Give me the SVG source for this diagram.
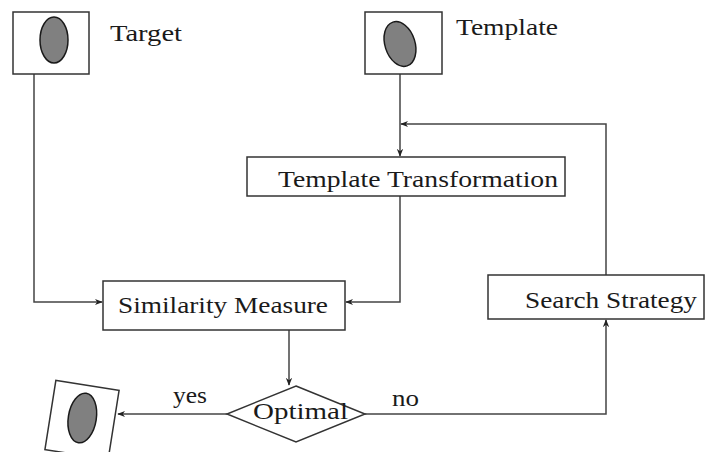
<svg xmlns="http://www.w3.org/2000/svg" width="706" height="452" viewBox="0 0 706 452">
  <style>
    .box { fill: #fff; stroke: #333; stroke-width: 1.5; }
    .blob { fill: #808080; stroke: #1a1a1a; stroke-width: 1.5; }
    .wire { fill: none; stroke: #444; stroke-width: 1.5; }
    .lbl { font-family: "Liberation Serif", "Times New Roman", serif; font-size: 24px; fill: #1a1a1a; }
  </style>
  <defs>
    <marker id="arr" viewBox="0 0 10 10" refX="9" refY="5" markerWidth="8" markerHeight="8" markerUnits="userSpaceOnUse" orient="auto">
      <path d="M0,1 L10,5 L0,9 L3,5 Z" fill="#222"/>
    </marker>
  </defs>

  <rect width="706" height="452" fill="#fff"/>

  <g id="connectors">
    <polyline class="wire" points="34,74 34,302 102,302" marker-end="url(#arr)"/>
    <polyline class="wire" points="400,74 400,156" marker-end="url(#arr)"/>
    <polyline class="wire" points="606,275 606,124 401,124" marker-end="url(#arr)"/>
    <polyline class="wire" points="400,196 400,302 346,302" marker-end="url(#arr)"/>
    <polyline class="wire" points="289,330 289,385" marker-end="url(#arr)"/>
    <polyline class="wire" points="365,414 606,414 606,320" marker-end="url(#arr)"/>
    <polyline class="wire" points="227,414 118,414" marker-end="url(#arr)"/>
  </g>

  <g id="target">
    <rect class="box" x="13" y="12" width="76" height="62"/>
    <ellipse class="blob" cx="54" cy="40" rx="14" ry="23"/>
    <text class="lbl" x="110" y="41" textLength="72" lengthAdjust="spacingAndGlyphs">Target</text>
  </g>

  <g id="template">
    <rect class="box" x="365" y="12" width="77" height="62"/>
    <ellipse class="blob" cx="400" cy="44" rx="15" ry="23" transform="rotate(-18 400 44)"/>
    <text class="lbl" x="456" y="35" textLength="102" lengthAdjust="spacingAndGlyphs">Template</text>
  </g>

  <g id="template-transformation">
    <rect class="box" x="247" y="157" width="318" height="39"/>
    <text class="lbl" x="278" y="187" textLength="280" lengthAdjust="spacingAndGlyphs">Template Transformation</text>
  </g>

  <g id="similarity-measure">
    <rect class="box" x="103" y="281" width="242" height="49"/>
    <text class="lbl" x="118" y="313" textLength="210" lengthAdjust="spacingAndGlyphs">Similarity Measure</text>
  </g>

  <g id="search-strategy">
    <rect class="box" x="488" y="275" width="216" height="44"/>
    <text class="lbl" x="525" y="308" textLength="172" lengthAdjust="spacingAndGlyphs">Search Strategy</text>
  </g>

  <g id="optimal">
    <polygon class="box" points="296,386 365,414 296,442 227,414"/>
    <text class="lbl" x="253" y="419" textLength="95" lengthAdjust="spacingAndGlyphs">Optimal</text>
  </g>

  <g id="edge-labels">
    <text class="lbl" x="173" y="403" textLength="34" lengthAdjust="spacingAndGlyphs">yes</text>
    <text class="lbl" x="392" y="406" textLength="27" lengthAdjust="spacingAndGlyphs">no</text>
  </g>

  <g id="result" transform="translate(82 420) rotate(9)">
    <rect class="box" x="-32" y="-35" width="64" height="70"/>
    <ellipse class="blob" cx="0" cy="-2" rx="14" ry="25"/>
  </g>
</svg>
